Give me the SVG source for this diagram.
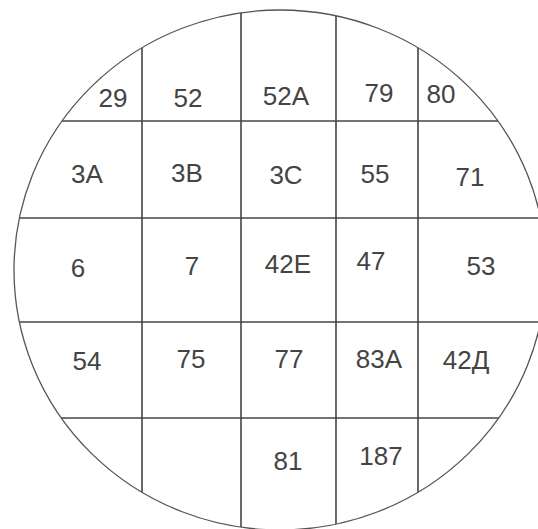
<svg xmlns="http://www.w3.org/2000/svg" width="538" height="529" viewBox="0 0 538 529">
<style>
.lbl{font-family:"Liberation Sans",Arial,sans-serif;font-size:26px;fill:#444;text-anchor:middle}
.grid{stroke:#444;stroke-width:1.6;fill:none}
.rim{stroke:#555;stroke-width:1.3;fill:none}
</style>
<defs>
<clipPath id="disc"><ellipse cx="280" cy="270" rx="266" ry="260"/></clipPath>
</defs>
<rect width="538" height="529" fill="#fff"/>
<g id="grid" clip-path="url(#disc)" class="grid">
<line x1="142" y1="0" x2="142" y2="529"/>
<line x1="241" y1="0" x2="241" y2="529"/>
<line x1="336" y1="0" x2="336" y2="529"/>
<line x1="418" y1="0" x2="418" y2="529"/>
<line x1="0" y1="121" x2="538" y2="121"/>
<line x1="0" y1="218" x2="538" y2="218"/>
<line x1="0" y1="322" x2="538" y2="322"/>
<line x1="0" y1="418" x2="538" y2="418"/>
</g>
<ellipse id="outline" class="rim" cx="280" cy="270" rx="266" ry="260"/>
<g id="cells">
<g id="c29"><text class="lbl" x="113" y="107">29</text></g>
<g id="c52"><text class="lbl" x="188" y="107">52</text></g>
<g id="c52A"><text class="lbl" x="286" y="105">52A</text></g>
<g id="c79"><text class="lbl" x="379" y="102">79</text></g>
<g id="c80"><text class="lbl" x="441" y="103">80</text></g>
<g id="c3A"><text class="lbl" x="87" y="183">3A</text></g>
<g id="c3B"><text class="lbl" x="187" y="182">3B</text></g>
<g id="c3C"><text class="lbl" x="286" y="184">3C</text></g>
<g id="c55"><text class="lbl" x="375" y="183">55</text></g>
<g id="c71"><text class="lbl" x="470" y="186">71</text></g>
<g id="c6"><text class="lbl" x="78" y="277">6</text></g>
<g id="c7"><text class="lbl" x="192" y="275">7</text></g>
<g id="c42E"><text class="lbl" x="288" y="273">42E</text></g>
<g id="c47"><text class="lbl" x="371" y="270">47</text></g>
<g id="c53"><text class="lbl" x="481" y="275">53</text></g>
<g id="c54"><text class="lbl" x="87" y="370">54</text></g>
<g id="c75"><text class="lbl" x="191" y="368">75</text></g>
<g id="c77"><text class="lbl" x="289" y="368">77</text></g>
<g id="c83A"><text class="lbl" x="379" y="368">83A</text></g>
<g id="c42D"><text class="lbl" x="466" y="369">42Д</text></g>
<g id="c81"><text class="lbl" x="288" y="470">81</text></g>
<g id="c187"><text class="lbl" x="381" y="465">187</text></g>
</g>
</svg>
